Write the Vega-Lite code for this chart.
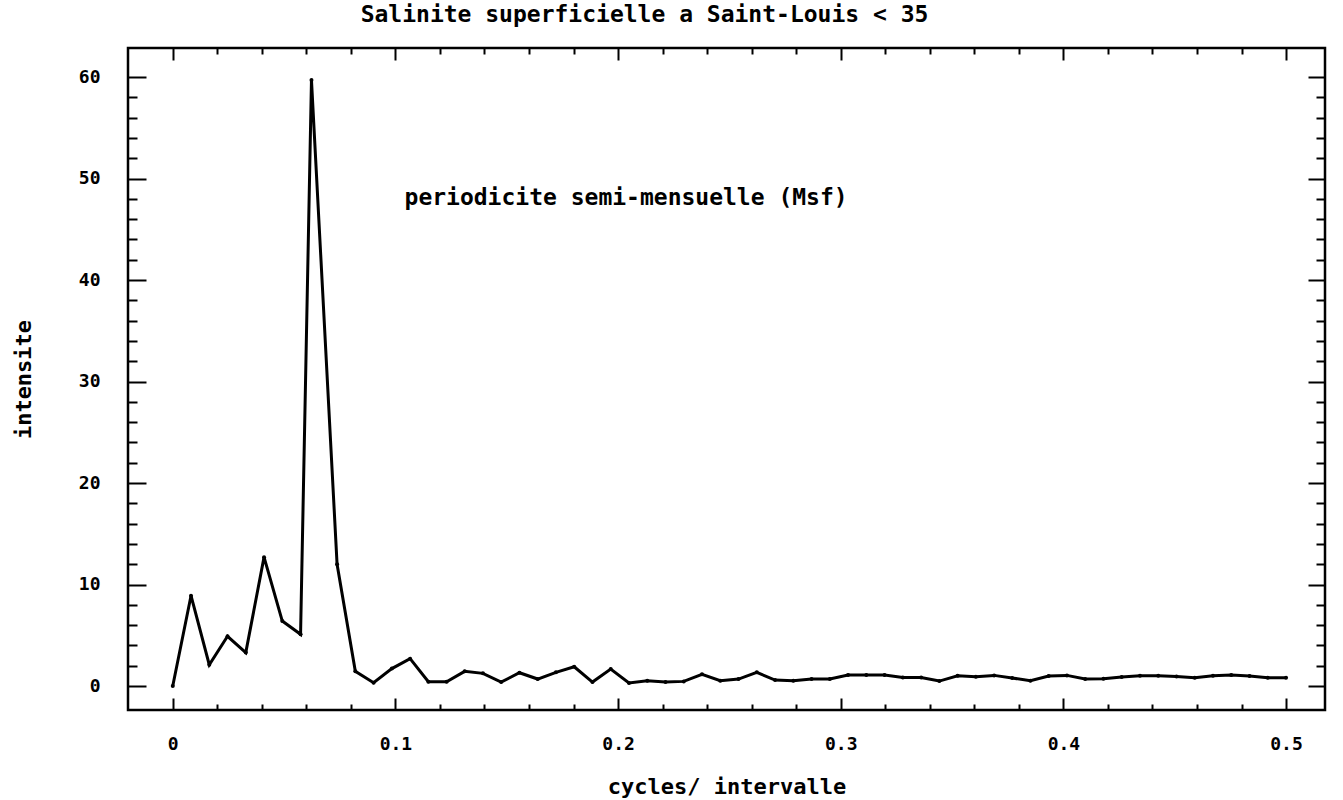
{
  "$schema": "https://vega.github.io/schema/vega-lite/v6.json",
  "width": 1197,
  "height": 662,
  "autosize": "none",
  "padding": {"left": 128, "top": 48, "right": 18, "bottom": 90},
  "background": "white",
  "config": {
    "view": {"stroke": "#000", "strokeWidth": 2.5},
    "axis": {
      "grid": false,
      "domain": false,
      "tickColor": "#000",
      "tickWidth": 2,
      "labelFont": "DejaVu Sans Mono",
      "labelFontWeight": "bold",
      "labelFontSize": 18,
      "labelColor": "#000",
      "titleFont": "DejaVu Sans Mono",
      "titleFontWeight": "bold",
      "titleFontSize": 22,
      "titleColor": "#000"
    }
  },
  "title": {
    "text": "Salinite superficielle a Saint-Louis < 35",
    "font": "DejaVu Sans Mono",
    "fontWeight": "bold",
    "fontSize": 23,
    "color": "#000",
    "anchor": "middle",
    "frame": "group",
    "dx": -82,
    "offset": 20
  },
  "datasets": {
    "spectre": [
      {"frequence": 0.0, "intensite": 0.0},
      {"frequence": 0.0082, "intensite": 8.9},
      {"frequence": 0.0164, "intensite": 2.1},
      {"frequence": 0.0246, "intensite": 4.9},
      {"frequence": 0.0328, "intensite": 3.3},
      {"frequence": 0.041, "intensite": 12.7},
      {"frequence": 0.0492, "intensite": 6.4},
      {"frequence": 0.0574, "intensite": 5.1},
      {"frequence": 0.0623, "intensite": 59.7},
      {"frequence": 0.0738, "intensite": 12.0},
      {"frequence": 0.082, "intensite": 1.45},
      {"frequence": 0.0902, "intensite": 0.33},
      {"frequence": 0.0984, "intensite": 1.72},
      {"frequence": 0.1066, "intensite": 2.7},
      {"frequence": 0.1148, "intensite": 0.42},
      {"frequence": 0.123, "intensite": 0.42},
      {"frequence": 0.1311, "intensite": 1.45},
      {"frequence": 0.1393, "intensite": 1.25},
      {"frequence": 0.1475, "intensite": 0.39},
      {"frequence": 0.1557, "intensite": 1.31},
      {"frequence": 0.1639, "intensite": 0.69},
      {"frequence": 0.1721, "intensite": 1.35},
      {"frequence": 0.1803, "intensite": 1.9},
      {"frequence": 0.1885, "intensite": 0.39},
      {"frequence": 0.1967, "intensite": 1.67},
      {"frequence": 0.2049, "intensite": 0.3},
      {"frequence": 0.2131, "intensite": 0.53},
      {"frequence": 0.2213, "intensite": 0.39},
      {"frequence": 0.2295, "intensite": 0.46},
      {"frequence": 0.2377, "intensite": 1.15},
      {"frequence": 0.2459, "intensite": 0.53},
      {"frequence": 0.2541, "intensite": 0.69},
      {"frequence": 0.2623, "intensite": 1.35},
      {"frequence": 0.2705, "intensite": 0.59},
      {"frequence": 0.2787, "intensite": 0.53},
      {"frequence": 0.2869, "intensite": 0.69},
      {"frequence": 0.2951, "intensite": 0.69},
      {"frequence": 0.3033, "intensite": 1.08},
      {"frequence": 0.3115, "intensite": 1.08},
      {"frequence": 0.3197, "intensite": 1.08},
      {"frequence": 0.3279, "intensite": 0.85},
      {"frequence": 0.3361, "intensite": 0.85},
      {"frequence": 0.3443, "intensite": 0.49},
      {"frequence": 0.3525, "intensite": 1.02},
      {"frequence": 0.3607, "intensite": 0.92},
      {"frequence": 0.3689, "intensite": 1.05},
      {"frequence": 0.377, "intensite": 0.79},
      {"frequence": 0.3852, "intensite": 0.53},
      {"frequence": 0.3934, "intensite": 0.99},
      {"frequence": 0.4016, "intensite": 1.05},
      {"frequence": 0.4098, "intensite": 0.69},
      {"frequence": 0.418, "intensite": 0.72},
      {"frequence": 0.4262, "intensite": 0.89},
      {"frequence": 0.4344, "intensite": 1.02},
      {"frequence": 0.4426, "intensite": 1.02},
      {"frequence": 0.4508, "intensite": 0.95},
      {"frequence": 0.459, "intensite": 0.82},
      {"frequence": 0.4672, "intensite": 1.02},
      {"frequence": 0.4754, "intensite": 1.08},
      {"frequence": 0.4836, "intensite": 0.99},
      {"frequence": 0.4918, "intensite": 0.82},
      {"frequence": 0.5, "intensite": 0.82}
    ]
  },
  "data": {"name": "spectre"},
  "resolve": {"axis": {"x": "independent", "y": "independent"}},
  "layer": [
    {
      "mark": {"type": "line", "color": "#000", "strokeWidth": 3},
      "encoding": {
        "x": {
          "field": "frequence",
          "type": "quantitative",
          "scale": {"domain": [-0.0201, 0.5175], "nice": false, "zero": false},
          "axis": {
            "orient": "bottom",
            "values": [0, 0.1, 0.2, 0.3, 0.4, 0.5],
            "format": "~g",
            "ticks": false,
            "labelPadding": 25,
            "title": "cycles/ intervalle",
            "titlePadding": 23
          }
        },
        "y": {
          "field": "intensite",
          "type": "quantitative",
          "scale": {"domain": [-2.36, 62.86], "nice": false, "zero": false},
          "axis": {
            "orient": "left",
            "values": [0, 10, 20, 30, 40, 50, 60],
            "format": "d",
            "ticks": false,
            "labelPadding": 28,
            "title": "intensite",
            "titlePadding": 43
          }
        }
      }
    },
    {
      "mark": {"type": "point", "filled": true, "color": "#000", "size": 16, "opacity": 1},
      "encoding": {
        "x": {
          "field": "frequence",
          "type": "quantitative",
          "axis": {
            "orient": "bottom",
            "values": [0, 0.02, 0.04, 0.06, 0.08, 0.1, 0.12, 0.14, 0.16, 0.18, 0.2, 0.22, 0.24, 0.26, 0.28, 0.3, 0.32, 0.34, 0.36, 0.38, 0.4, 0.42, 0.44, 0.46, 0.48, 0.5],
            "labels": false,
            "title": null,
            "tickSize": {"condition": {"test": "abs(datum.value * 10 - round(datum.value * 10)) < 1e-6", "value": -12}, "value": -6}
          }
        },
        "y": {
          "field": "intensite",
          "type": "quantitative",
          "axis": {
            "orient": "left",
            "values": [0, 2, 4, 6, 8, 10, 12, 14, 16, 18, 20, 22, 24, 26, 28, 30, 32, 34, 36, 38, 40, 42, 44, 46, 48, 50, 52, 54, 56, 58, 60],
            "labels": false,
            "title": null,
            "tickSize": {"condition": {"test": "datum.value % 10 === 0", "value": -18}, "value": -9}
          }
        }
      }
    },
    {
      "mark": {"type": "point", "opacity": 0},
      "encoding": {
        "x": {
          "field": "frequence",
          "type": "quantitative",
          "axis": {
            "orient": "top",
            "values": [0, 0.02, 0.04, 0.06, 0.08, 0.1, 0.12, 0.14, 0.16, 0.18, 0.2, 0.22, 0.24, 0.26, 0.28, 0.3, 0.32, 0.34, 0.36, 0.38, 0.4, 0.42, 0.44, 0.46, 0.48, 0.5],
            "labels": false,
            "title": null,
            "tickSize": {"condition": {"test": "abs(datum.value * 10 - round(datum.value * 10)) < 1e-6", "value": -12}, "value": -6}
          }
        },
        "y": {
          "field": "intensite",
          "type": "quantitative",
          "axis": {
            "orient": "right",
            "values": [0, 2, 4, 6, 8, 10, 12, 14, 16, 18, 20, 22, 24, 26, 28, 30, 32, 34, 36, 38, 40, 42, 44, 46, 48, 50, 52, 54, 56, 58, 60],
            "labels": false,
            "title": null,
            "tickSize": {"condition": {"test": "datum.value % 10 === 0", "value": -17}, "value": -9}
          }
        }
      }
    },
    {
      "data": {"values": [{}]},
      "mark": {
        "type": "text",
        "text": "periodicite semi-mensuelle (Msf)",
        "font": "DejaVu Sans Mono",
        "fontWeight": "bold",
        "fontSize": 23,
        "color": "#000",
        "align": "center",
        "baseline": "middle"
      },
      "encoding": {
        "x": {"datum": 0.2036, "type": "quantitative", "axis": null},
        "y": {"datum": 48.1, "type": "quantitative", "axis": null}
      }
    }
  ]
}
